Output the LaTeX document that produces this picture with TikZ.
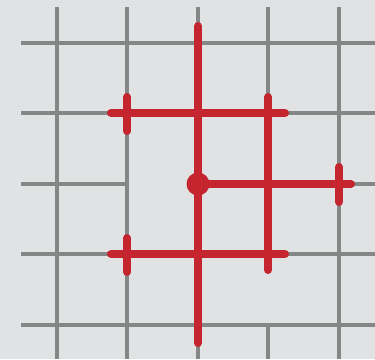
\documentclass[tikz,border=0pt]{standalone}
\definecolor{bgc}{RGB}{225,226,228}
\definecolor{gridgray}{RGB}{133,134,134}
\definecolor{myred}{RGB}{196,37,46}
\begin{document}
\begin{tikzpicture}[x=1pt,y=-1pt,
  gridline/.style={gridgray,line width=4pt},
  redline/.style={myred,line width=8pt,line cap=round}]
\fill[bgc] (0,0) rectangle (375,359);
\useasboundingbox (0,0) rectangle (375,359);
% grey grid
\foreach \x in {57,127,198,339} \draw[gridline] (\x,7) -- (\x,359);
\draw[gridline] (268,7) -- (268,100);
\draw[gridline] (268,323) -- (268,359);
\foreach \y in {43,113,254,325} \draw[gridline] (21,\y) -- (375,\y);
\draw[gridline] (21,184) -- (129,184);
\draw[gridline] (300,184) -- (375,184);
% red lines
\draw[redline] (198,26) -- (198,343);
\draw[redline] (111,113) -- (285,113);
\draw[redline] (111,254) -- (285,254);
\draw[redline] (268,97) -- (268,270);
\draw[redline] (198,184) -- (351,184);
\draw[redline] (127,97) -- (127,131);
\draw[redline] (127,238) -- (127,272);
\draw[redline] (339,167) -- (339,202);
\fill[myred] (198,184) circle (11.5);
\end{tikzpicture}
\end{document}
